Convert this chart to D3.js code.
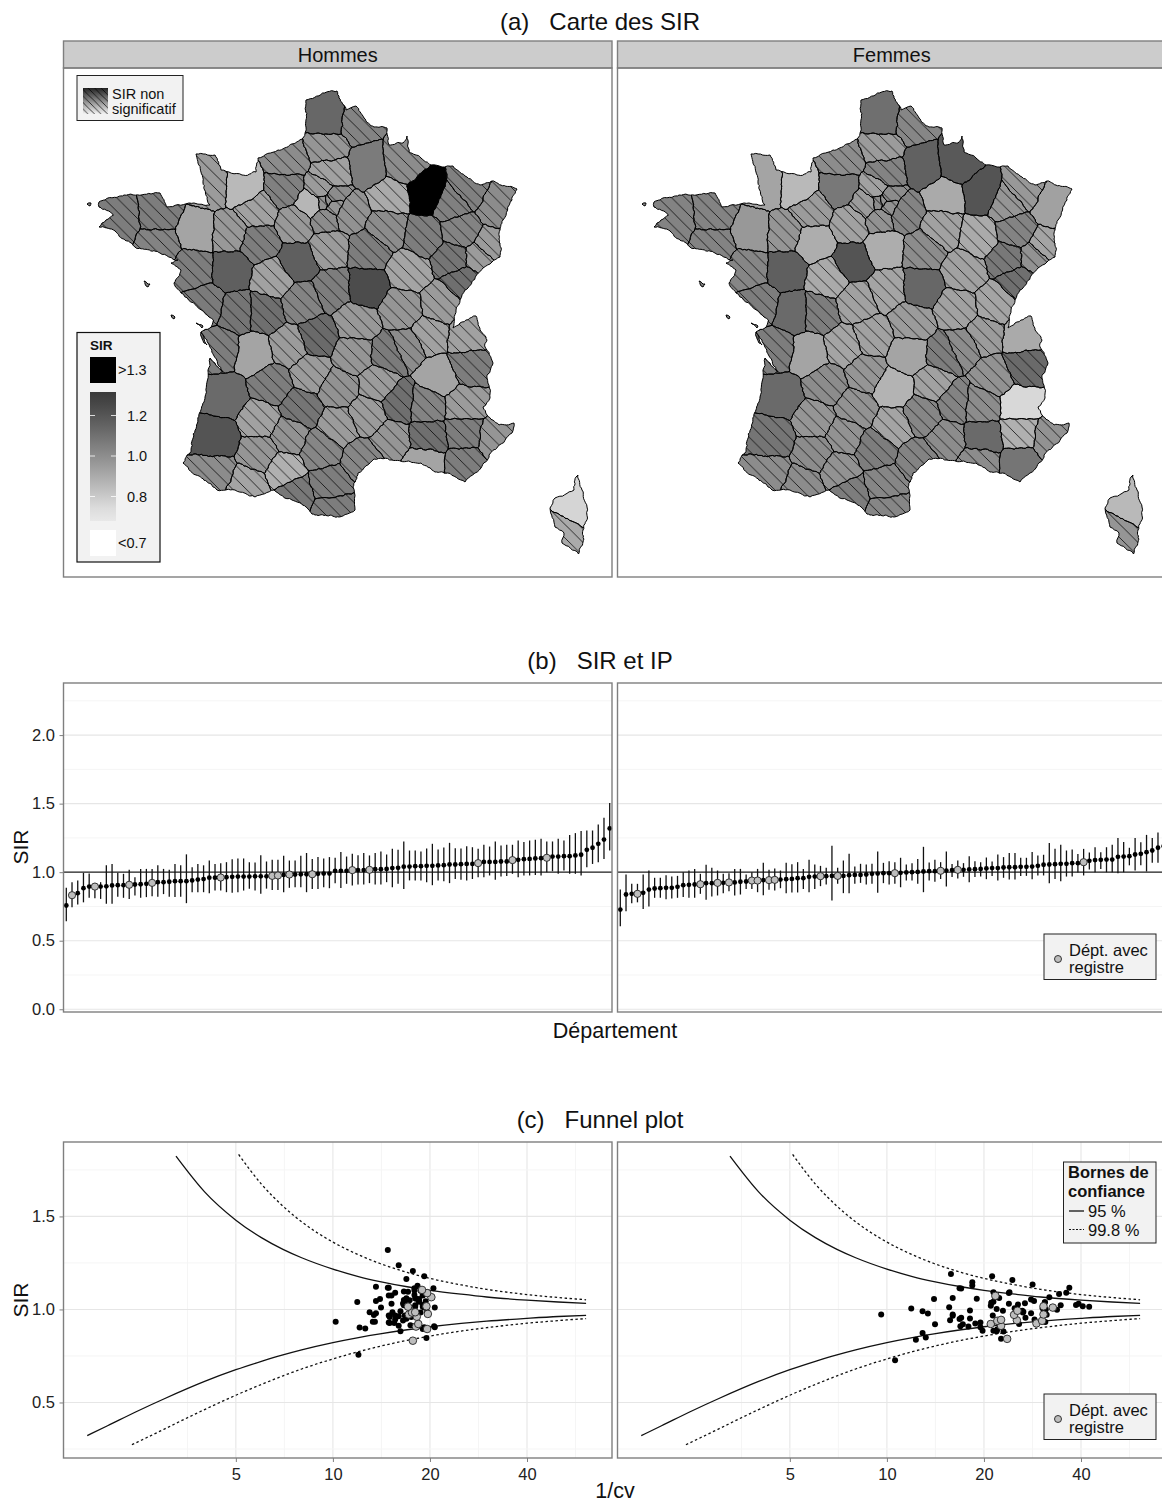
<!DOCTYPE html>
<html>
<head>
<meta charset="utf-8">
<title>SIR par departement</title>
<script src="https://d3js.org/d3.v7.min.js"></script>
<style>
  body { margin: 0; background: #fff; }
  svg { display: block; }
  text { font-family: "Liberation Sans", Arial, sans-serif; fill: #111; }
  .axis path { display: none; }
  .axis line { stroke: #7f7f7f; }
  .axis text { font-size: 16.5px; fill: #222; }
</style>
</head>
<body>
<script>

// ---- map: departments, rough centres (lon, lat) and SIR read from the colours
var deptCodes = ["01","02","03","04","05","06","07","08","09","10","11","12","13","14","15","16","17","18","19","2A","2B","21","22","23","24","25","26","27","28","29","30","31","32","33","34","35","36","37","38","39","40","41","42","43","44","45","46","47","48","49","50","51","52","53","54","55","56","57","58","59","60","61","62","63","64","65","66","67","68","69","70","71","72","73","74","75","76","77","78","79","80","81","82","83","84","85","86","87","88","89","90","91","92","93","94","95"];
var deptLon = [5.35,3.56,3.19,6.24,6.26,7.12,4.42,4.64,1.5,4.16,2.41,2.68,5.09,-0.36,2.67,0.2,-0.78,2.49,1.88,8.71,9.0,4.77,-2.86,2.02,0.74,6.36,5.17,1.0,1.37,-4.1,4.18,1.17,0.45,-0.57,3.37,-1.64,1.58,0.69,5.58,5.7,-0.78,1.43,4.17,3.81,-1.68,2.34,1.6,0.46,3.5,-0.56,-1.32,4.24,5.23,-0.66,6.16,5.38,-2.81,6.66,3.5,3.22,2.43,0.13,2.29,3.14,-0.76,0.16,2.52,7.55,7.27,4.64,6.09,4.54,0.22,6.44,6.43,2.34,1.03,2.93,1.84,-0.32,2.28,2.17,1.28,6.24,5.19,-1.3,0.46,1.24,6.38,3.56,6.93,2.24,2.2,2.47,2.47,2.13];
var deptLat = [46.1,49.56,46.39,44.1,44.66,43.94,44.75,49.6,42.92,48.3,43.1,44.28,43.54,49.1,45.05,45.72,45.78,47.06,45.36,42.12,42.48,47.42,48.44,46.09,45.1,47.16,44.68,49.11,48.39,48.25,44.0,43.36,43.69,44.83,43.58,48.15,46.78,47.26,45.26,46.73,43.96,47.62,45.73,45.13,47.36,47.91,44.62,44.37,44.52,47.39,49.08,48.95,48.11,48.15,48.79,49.01,47.85,49.04,47.11,50.45,49.41,48.62,50.49,45.73,43.26,43.05,42.6,48.67,47.86,45.87,47.64,46.64,47.99,45.48,46.03,48.86,49.66,48.63,48.79,46.54,49.96,43.79,44.08,43.46,44.01,46.68,46.56,45.89,48.2,47.84,47.63,48.52,48.85,48.92,48.78,49.07];
var mapHommes = [0.93,1.06,0.96,1.05,0.95,0.97,1.1,1.0,1.07,1.0,1.05,0.95,0.92,0.85,0.98,0.92,1.05,1.05,0.95,0.9,0.76,0.92,1.05,1.12,1.05,1.1,1.03,1.04,0.96,1.05,0.97,0.88,0.97,1.12,1.02,0.92,1.03,0.93,0.92,0.95,1.2,1.16,1.06,0.95,1.05,0.95,1.08,0.93,0.95,1.16,0.95,0.9,1.05,0.96,1.04,1.32,1.03,1.04,1.23,1.03,0.93,0.93,1.13,0.97,1.0,0.92,1.05,1.0,0.95,1.0,1.08,0.97,1.05,1.05,0.93,0.98,1.0,0.98,0.86,1.08,0.97,1.02,0.98,1.05,1.1,1.06,1.1,0.95,1.03,1.05,0.95,1.0,0.98,1.0,0.97,0.95];
var mapFemmes = [0.95,1.15,0.95,0.88,0.75,0.98,1.03,1.18,1.05,0.93,1.02,0.92,1.0,0.85,0.87,0.92,1.05,0.92,0.97,0.97,0.85,0.93,1.03,0.93,1.0,1.1,1.0,1.07,0.93,1.03,1.0,0.98,1.0,1.12,1.03,0.96,0.93,0.9,0.98,0.92,1.08,1.2,1.05,0.93,1.02,0.89,0.98,0.97,1.02,1.16,0.92,0.9,0.9,0.97,0.97,1.2,1.03,0.96,1.13,1.02,1.03,0.95,1.1,0.92,1.0,1.0,1.02,0.93,0.92,1.0,1.07,0.93,0.89,1.12,0.9,0.98,1.0,1.03,0.95,1.12,0.95,1.05,0.98,1.08,1.12,1.05,1.05,0.92,1.03,1.0,0.98,0.98,1.0,1.0,0.98,0.93];
// departments drawn without hatching (significant SIR)
var sigHommes = ["02","13","14","16","2B","33","35","38","40","41","49","55","58","62","78"];
var sigFemmes = ["02","05","08","14","15","16","27","2B","33","35","41","45","49","50","51","55","58","62","63","67","72","74","79","83","84"];

// coast and land border, in picture units of the left panel
var franceBorder = [[306,100],[322.5,93],[337,91],[339,98],[346,110],[356,106],[364,118],[374,127],[387,128],[389,145],[403,143],[407,136],[409,152],[421,158],[431,165],[442,167],[453,166],[467,177],[480,185],[492,181],[517,189],[512,200],[503,220],[499,233],[500,257],[492,262],[483,268],[465,290],[456,310],[453,328],[460,323],[476,316],[480,330],[487,340],[485,347],[493,363],[487,378],[490,398],[483,407],[487,415],[499,425],[514,423],[512,433],[497.5,447],[489,455],[481,468],[465,482],[447.5,473],[435,472],[421,463],[392,460],[374,459],[358,473],[353,487],[355,510],[339,517],[315,515],[306,507],[292,500],[274,490],[255,497],[235,490],[217,490],[196,475],[183,463],[190,453],[197.5,423],[205,397],[210,358],[222.5,372],[213.5,355],[208,343],[201,332],[210,328],[213.5,320],[181,293],[174,283],[181,270],[171,263],[178,260],[160,253],[135,247],[113.5,230],[99,227],[106,220],[113.5,215],[99,207],[99,202],[124,195],[160,193],[167,207],[189,203],[194,203],[210,205],[203,183],[196,154],[215,155],[221,170],[242,175],[256,172],[258,158],[278,150],[303,138],[306,127]];
var corseBorder = [[578,475],[582,490],[587,507],[587.5,518],[583,530],[583,542],[578.5,554],[562,543],[564,533],[555,527],[550,508],[555,498],[574,490],[576,477]];
var islands = [[[87,204],[91,203],[90,206]],[[144,281],[150,284],[148,287],[145,284]],[[171,315],[175,317],[174,319]],[[196,323],[203,326],[202,328]],[[201,332],[204,337],[207,345],[204,343]]];

// ---- (b) SIR et IP, sorted by SIR
var sirHommes = [0.757,0.832,0.847,0.883,0.895,0.895,0.895,0.897,0.903,0.905,0.905,0.908,0.91,0.912,0.915,0.922,0.927,0.927,0.93,0.934,0.934,0.934,0.94,0.946,0.95,0.96,0.96,0.961,0.963,0.966,0.968,0.968,0.968,0.97,0.97,0.97,0.973,0.976,0.98,0.983,0.983,0.985,0.985,0.985,0.988,0.99,0.99,1.01,1.01,1.01,1.015,1.015,1.015,1.017,1.022,1.022,1.024,1.03,1.032,1.04,1.041,1.044,1.044,1.046,1.046,1.049,1.051,1.056,1.056,1.058,1.06,1.06,1.066,1.075,1.075,1.075,1.078,1.078,1.088,1.09,1.095,1.097,1.1,1.102,1.105,1.114,1.114,1.117,1.117,1.122,1.127,1.163,1.178,1.207,1.238,1.319];
var hiHommes = [0.886,0.927,0.94,0.995,0.99,0.92,0.927,1.05,1.06,0.995,0.988,1.017,0.963,1.024,1.024,1.024,1.05,1.024,1.017,1.06,1.05,1.13,1.036,1.06,1.05,1.085,1.06,1.066,1.073,1.095,1.1,1.1,1.073,1.07,1.124,1.078,1.09,1.09,1.12,1.085,1.085,1.12,1.14,1.097,1.11,1.1,1.11,1.105,1.148,1.114,1.134,1.124,1.139,1.122,1.139,1.151,1.129,1.17,1.163,1.224,1.158,1.158,1.15,1.173,1.207,1.165,1.18,1.214,1.175,1.173,1.19,1.182,1.17,1.2,1.187,1.224,1.195,1.2,1.2,1.231,1.22,1.231,1.236,1.243,1.224,1.224,1.243,1.231,1.272,1.285,1.3,1.304,1.304,1.348,1.397,1.504];
var loHommes = [0.642,0.745,0.764,0.78,0.813,0.81,0.805,0.77,0.77,0.82,0.813,0.805,0.83,0.813,0.818,0.825,0.82,0.84,0.82,0.818,0.82,0.774,0.854,0.854,0.854,0.847,0.866,0.866,0.854,0.85,0.854,0.866,0.88,0.866,0.842,0.88,0.87,0.87,0.854,0.886,0.89,0.89,0.854,0.878,0.878,0.89,0.883,0.92,0.885,0.915,0.903,0.91,0.91,0.92,0.91,0.91,0.927,0.89,0.915,0.878,0.94,0.94,0.94,0.927,0.905,0.94,0.934,0.92,0.95,0.944,0.94,0.95,0.963,0.963,0.976,0.944,0.968,0.973,0.988,0.963,0.976,0.976,0.98,0.976,1.0,1.007,0.988,1.012,0.988,0.988,0.976,1.036,1.06,1.073,1.097,1.158];
var registreHommes = [1,5,11,15,27,36,37,39,43,50,53,72,78,84];

var sirFemmes = [0.727,0.837,0.842,0.842,0.849,0.873,0.881,0.883,0.886,0.886,0.893,0.905,0.908,0.91,0.912,0.92,0.92,0.922,0.922,0.925,0.925,0.93,0.932,0.939,0.939,0.942,0.942,0.944,0.946,0.949,0.951,0.956,0.956,0.966,0.968,0.971,0.971,0.973,0.973,0.973,0.978,0.98,0.98,0.983,0.988,0.99,0.993,0.993,0.993,0.995,0.998,1.0,1.002,1.005,1.007,1.007,1.01,1.012,1.015,1.017,1.017,1.02,1.022,1.024,1.027,1.03,1.03,1.034,1.036,1.036,1.039,1.039,1.041,1.046,1.054,1.056,1.058,1.061,1.061,1.066,1.066,1.073,1.083,1.088,1.09,1.092,1.092,1.112,1.114,1.117,1.129,1.134,1.146,1.158,1.178,1.19];
var hiFemmes = [0.873,0.983,0.915,0.915,0.983,1.012,0.959,0.959,0.978,0.968,0.973,1.0,1.012,1.024,0.988,1.054,1.032,1.012,0.988,0.993,1.024,1.024,0.983,1.0,1.024,1.068,1.017,1.027,1.012,1.068,1.058,1.073,1.024,1.09,1.056,1.046,1.032,1.192,1.032,1.085,1.134,1.041,1.061,1.056,1.061,1.151,1.068,1.08,1.073,1.105,1.056,1.066,1.097,1.185,1.07,1.09,1.073,1.15,1.06,1.085,1.066,1.117,1.08,1.073,1.107,1.078,1.129,1.11,1.139,1.139,1.105,1.105,1.148,1.122,1.127,1.212,1.17,1.2,1.158,1.165,1.132,1.17,1.144,1.182,1.146,1.182,1.2,1.25,1.221,1.178,1.25,1.219,1.272,1.25,1.29,1.33];
var loFemmes = [0.606,0.715,0.774,0.78,0.732,0.75,0.813,0.813,0.803,0.808,0.813,0.818,0.813,0.813,0.842,0.798,0.822,0.83,0.847,0.861,0.83,0.837,0.878,0.878,0.854,0.832,0.871,0.866,0.883,0.847,0.852,0.852,0.878,0.854,0.878,0.898,0.91,0.793,0.915,0.847,0.847,0.915,0.922,0.91,0.915,0.849,0.92,0.91,0.915,0.89,0.94,0.94,0.915,0.854,0.94,0.93,0.95,0.895,0.964,0.954,0.966,0.927,0.964,0.968,0.949,0.973,0.939,0.959,0.946,0.946,0.973,0.973,0.949,0.976,0.976,0.92,0.951,0.934,0.968,0.968,0.998,0.976,1.02,1.0,1.024,1.0,1.0,0.993,1.0,1.05,1.012,1.05,1.005,1.068,1.068,1.07];
var registreFemmes = [3,14,17,19,23,24,26,27,35,38,48,56,59,81];

// ---- (c) funnel plot, 1/cv of each department in the order above
var cvHommes = [12.0,17.7,19.5,16.2,19.5,19.6,19.0,12.6,12.1,20.7,19.2,18.1,20.6,16.0,17.4,18.4,15.5,15.0,14.9,13.5,13.3,10.2,16.5,15.6,16.9,15.0,17.5,18.2,16.0,15.0,14.9,15.6,16.7,17.1,13.4,17.9,17.2,19.7,13.6,17.6,18.7,15.3,13.0,18.0,19.6,17.4,16.2,20.7,14.1,19.2,17.1,18.0,19.0,19.5,18.0,16.6,19.0,15.2,16.5,11.9,18.5,18.5,19.4,16.9,13.6,17.3,16.6,14.0,18.5,18.1,16.9,18.0,20.2,14.9,19.0,15.2,19.0,17.9,19.6,15.6,17.1,16.6,18.7,17.9,18.9,20.5,17.9,14.9,14.8,13.6,18.3,16.9,19.2,17.7,16.0,14.8];
var cvFemmes = [10.6,12.3,22.6,23.6,13.2,12.9,23.0,21.9,19.8,21.4,22.0,19.5,17.9,16.9,22.6,14.1,17.2,21.0,25.7,29.1,18.8,19.5,31.0,30.3,22.0,15.7,25.3,22.6,28.7,16.8,18.1,17.0,26.9,16.0,21.3,24.8,31.3,9.6,30.6,16.0,13.4,30.9,28.0,26.4,26.5,12.9,26.3,22.9,25.4,18.1,33.7,31.1,21.9,11.9,30.4,24.9,32.7,15.6,42.4,30.6,40.5,21.0,34.6,38.6,25.5,39.3,23.9,26.8,21.1,21.1,30.9,30.9,21.4,28.6,28.0,14.0,19.0,16.0,22.3,21.7,31.9,21.7,34.2,23.9,36.0,24.0,21.4,17.0,16.8,36.8,18.4,28.3,18.4,24.5,21.2,15.8];

// confidence bounds as read on the plot: 1/cv, SIR
var b95Up = [[3.26,1.824],[4,1.632],[5,1.48],[6,1.386],[7,1.323],[8,1.278],[10,1.217],[12,1.177],[14,1.15],[17,1.122],[20,1.103],[25,1.082],[30,1.067],[40,1.05],[50,1.04],[61,1.033]];
var b95Lo = [[1.73,0.322],[2,0.375],[2.5,0.457],[3,0.52],[4,0.613],[5,0.676],[6,0.721],[7,0.756],[8,0.783],[10,0.822],[12,0.849],[14,0.869],[17,0.891],[20,0.907],[25,0.925],[30,0.937],[40,0.952],[50,0.962],[61,0.968]];
var b998Up = [[5.1,1.833],[6,1.674],[7,1.555],[8,1.471],[10,1.362],[12,1.294],[14,1.247],[17,1.199],[20,1.167],[25,1.132],[30,1.108],[40,1.08],[50,1.064],[61,1.052]];
var b998Lo = [[2.38,0.273],[2.6,0.305],[3,0.357],[3.5,0.414],[4,0.462],[5,0.539],[6,0.597],[7,0.643],[8,0.68],[10,0.734],[12,0.773],[14,0.802],[17,0.834],[20,0.857],[25,0.884],[30,0.902],[40,0.926],[50,0.94],[61,0.951]];

var panelX = [{ left: 63.5, right: 612, mapShift: 0, name: "Hommes" },
              { left: 617.5, right: 1166, mapShift: 555, name: "Femmes" }];
var borderGrey = "#7f7f7f";

var svg = d3.select("body").append("svg")
    .attr("width", 1162)
    .attr("height", 1502);

var defs = svg.append("defs");

function addHatch(id, step, w) {
  var p = defs.append("pattern").attr("id", id)
      .attr("patternUnits", "userSpaceOnUse")
      .attr("width", step).attr("height", step);
  [[0, 0, step, step], [-1, step - 1, 1, step + 1], [step - 1, -1, step + 1, 1]].forEach(function(d) {
    p.append("line").attr("x1", d[0]).attr("y1", d[1]).attr("x2", d[2]).attr("y2", d[3])
        .attr("stroke", "#000").attr("stroke-width", w);
  });
}
addHatch("hatch", 13.5, 0.75);
addHatch("hatchLegend", 6.5, 0.7);

var fillScale = d3.scaleLinear().domain([0.7, 1.3]).range(["#e8e8e8", "#3a3a3a"])
    .interpolate(d3.interpolateLab).clamp(true);

function fillFor(v) {
  if (v > 1.3) return "#000";
  if (v < 0.7) return "#fff";
  return fillScale(v);
}

var grad = defs.append("linearGradient").attr("id", "sirGrad")
    .attr("x1", 0).attr("y1", 0).attr("x2", 0).attr("y2", 1);
d3.range(0, 11).forEach(function(i) {
  grad.append("stop").attr("offset", i / 10).attr("stop-color", fillScale(1.31 - i * 0.0636));
});

function title(txt, y) {
  svg.append("text").attr("x", 600).attr("y", y).attr("text-anchor", "middle")
      .style("font-size", "24px").attr("xml:space", "preserve").text(txt);
}

// ---- map geometry
var projection = d3.geoConicConformal()
    .parallels([44, 49]).rotate([-3, 0]).center([0, 46.5])
    .scale(2819).translate([350, 317]);

var seeds = deptCodes.map(function(c, i) { return projection([deptLon[i], deptLat[i]]); });
var voronoi = d3.Delaunay.from(seeds).voronoi([0, 0, 800, 800]);

// wobble a border segment; same result from both sides so neighbours stay glued
function wobble(a, b, out) {
  var flip = a[0] > b[0] || (a[0] === b[0] && a[1] > b[1]);
  var p = flip ? b : a, q = flip ? a : b;
  var pts = [];
  (function rec(u, v) {
    var dx = v[0] - u[0], dy = v[1] - u[1], len = Math.sqrt(dx * dx + dy * dy);
    if (len < 3) return;
    var h = Math.sin(u[0] * 12.9898 + u[1] * 78.233 + v[0] * 37.719 + v[1] * 4.581) * 43758.5453;
    h = h - Math.floor(h) - 0.5;
    var amp = Math.min(0.34, 1.9 / len) * h;
    var m = [(u[0] + v[0]) / 2 - dy * amp, (u[1] + v[1]) / 2 + dx * amp];
    rec(u, m); pts.push(m); rec(m, v);
  })(p, q);
  if (flip) pts.reverse();
  out.push(a);
  pts.forEach(function(m) { out.push(m); });
}

function ringPath(ring) {
  var out = [];
  for (var i = 0; i < ring.length; i++) wobble(ring[i], ring[(i + 1) % ring.length], out);
  return "M" + out.map(function(p) { return p[0].toFixed(2) + "," + p[1].toFixed(2); }).join("L") + "Z";
}

var cellPaths = deptCodes.map(function(c, i) {
  var poly = voronoi.cellPolygon(i);
  poly.pop();
  return ringPath(poly);
});
var landPath = [franceBorder, corseBorder].concat(islands).map(ringPath).join("");

defs.append("clipPath").attr("id", "land").append("path").attr("d", landPath);

function drawMap(p, values, sig) {
  // strip + panel
  svg.append("rect").attr("x", p.left).attr("y", 41).attr("width", p.right - p.left).attr("height", 27)
      .attr("fill", "#cccccc").attr("stroke", borderGrey).attr("stroke-width", 1.4);
  svg.append("text").attr("x", (p.left + p.right) / 2).attr("y", 61.5).attr("text-anchor", "middle")
      .style("font-size", "20px").text(p.name);

  var g = svg.append("g").attr("transform", "translate(" + p.mapShift + ",0)");
  var cells = g.append("g").attr("clip-path", "url(#land)");
  cells.selectAll("path.fill").data(deptCodes).enter().append("path")
      .attr("class", "fill")
      .attr("d", function(d, i) { return cellPaths[i]; })
      .attr("fill", function(d, i) { return fillFor(values[i]); });
  cells.selectAll("path.hatch").data(deptCodes.filter(function(d) { return sig.indexOf(d) < 0; })).enter().append("path")
      .attr("class", "hatch")
      .attr("d", function(d) { return cellPaths[deptCodes.indexOf(d)]; })
      .attr("fill", "url(#hatch)");
  cells.selectAll("path.edge").data(deptCodes).enter().append("path")
      .attr("class", "edge")
      .attr("d", function(d, i) { return cellPaths[i]; })
      .attr("fill", "none").attr("stroke", "#000").attr("stroke-width", 1);
  g.append("path").attr("d", landPath).attr("fill", "none").attr("stroke", "#000").attr("stroke-width", 1);

  svg.append("rect").attr("x", p.left).attr("y", 68).attr("width", p.right - p.left).attr("height", 509)
      .attr("fill", "none").attr("stroke", borderGrey).attr("stroke-width", 1.4);
}

title("(a)   Carte des SIR", 30);
panelX.forEach(function(p, i) {
  drawMap(p, i === 0 ? mapHommes : mapFemmes, i === 0 ? sigHommes : sigFemmes);
});

// legends of the map
var lh = svg.append("g");
lh.append("rect").attr("x", 77).attr("y", 75.5).attr("width", 106).attr("height", 45)
    .attr("fill", "#f2f2f2").attr("stroke", "#222").attr("stroke-width", 1);
var hg = defs.append("linearGradient").attr("id", "hatchGrad").attr("x1", 0).attr("y1", 0).attr("x2", 0).attr("y2", 1);
hg.append("stop").attr("offset", 0).attr("stop-color", "#222");
hg.append("stop").attr("offset", 1).attr("stop-color", "#f2f2f2");
lh.append("rect").attr("x", 83).attr("y", 88).attr("width", 25).attr("height", 26).attr("fill", "url(#hatchGrad)");
lh.append("rect").attr("x", 83).attr("y", 88).attr("width", 25).attr("height", 26).attr("fill", "url(#hatchLegend)");
lh.append("text").attr("x", 112).attr("y", 98.5).style("font-size", "14.5px").text("SIR non");
lh.append("text").attr("x", 112).attr("y", 114).style("font-size", "14.5px").text("significatif");

var ls = svg.append("g");
ls.append("rect").attr("x", 77).attr("y", 332.5).attr("width", 83).attr("height", 229.5)
    .attr("fill", "#f2f2f2").attr("stroke", "#111").attr("stroke-width", 1.2);
ls.append("text").attr("x", 90).attr("y", 350).style("font-size", "13.5px").style("font-weight", "bold").text("SIR");
ls.append("rect").attr("x", 90).attr("y", 357).attr("width", 26).attr("height", 26).attr("fill", "#000");
ls.append("rect").attr("x", 90).attr("y", 392).attr("width", 26).attr("height", 129).attr("fill", "url(#sirGrad)");
ls.append("rect").attr("x", 90).attr("y", 530).attr("width", 26).attr("height", 26).attr("fill", "#fff");
ls.append("text").attr("x", 118).attr("y", 375).style("font-size", "14.5px").text(">1.3");
ls.append("text").attr("x", 118).attr("y", 548).style("font-size", "14.5px").text("<0.7");

var legendTicks = [1.2, 1.0, 0.8];
var legendY = d3.scaleLinear().domain([1.2, 0.8]).range([415.5, 496.5]);
legendTicks.forEach(function(t) {
  [[90, 95], [111, 116]].forEach(function(r) {
    ls.append("line").attr("x1", r[0]).attr("x2", r[1]).attr("y1", legendY(t)).attr("y2", legendY(t))
        .attr("stroke", "#fff").attr("stroke-width", 0.8);
  });
  ls.append("text").attr("x", 127).attr("y", legendY(t) + 5.2).style("font-size", "14.5px").text(t.toFixed(1));
});

// ---- shared helpers for (b) and (c)
function legendRegistre(top) {
  var l = svg.append("g");
  l.append("rect").attr("x", 1044).attr("y", top).attr("width", 112).attr("height", 45.5)
      .attr("fill", "#f2f2f2").attr("stroke", "#222").attr("stroke-width", 1);
  l.append("circle").attr("cx", 1058).attr("cy", top + 25).attr("r", 3.5)
      .attr("fill", "#bdbdbd").attr("stroke", "#222").attr("stroke-width", 0.9);
  l.append("text").attr("x", 1069).attr("y", top + 22).style("font-size", "16.5px").text("Dépt. avec");
  l.append("text").attr("x", 1069).attr("y", top + 39).style("font-size", "16.5px").text("registre");
}

function frame(p, top, bottom) {
  svg.append("rect").attr("x", p.left).attr("y", top).attr("width", p.right - p.left).attr("height", bottom - top)
      .attr("fill", "none").attr("stroke", borderGrey).attr("stroke-width", 1.4);
}

function gridY(p, y, majors, minors) {
  minors.forEach(function(t) {
    svg.append("line").attr("x1", p.left).attr("x2", p.right).attr("y1", y(t)).attr("y2", y(t))
        .attr("stroke", "#f5f5f5").attr("stroke-width", 1);
  });
  majors.forEach(function(t) {
    svg.append("line").attr("x1", p.left).attr("x2", p.right).attr("y1", y(t)).attr("y2", y(t))
        .attr("stroke", "#e6e6e6").attr("stroke-width", 1.1);
  });
}

// ---- (b)
title("(b)   SIR et IP", 669);
var yB = d3.scaleLinear().domain([-0.02, 2.38]).range([1012, 683]);
var bMajor = [0, 0.5, 1, 1.5, 2], bMinor = [0.25, 0.75, 1.25, 1.75, 2.25];

function drawCI(p, sir, lo, hi, reg) {
  var x = d3.scalePoint().domain(d3.range(sir.length)).range([p.left + 2.8, p.left + 2.8 + 95 * 5.72]);
  gridY(p, yB, bMajor, bMinor);
  svg.append("line").attr("x1", p.left).attr("x2", p.right).attr("y1", yB(1)).attr("y2", yB(1))
      .attr("stroke", "#222").attr("stroke-width", 1.3);
  var g = svg.append("g");
  g.selectAll("line").data(sir).enter().append("line")
      .attr("x1", function(d, i) { return x(i); }).attr("x2", function(d, i) { return x(i); })
      .attr("y1", function(d, i) { return yB(lo[i]); }).attr("y2", function(d, i) { return yB(hi[i]); })
      .attr("stroke", "#111").attr("stroke-width", 1.3);
  g.selectAll("circle.pt").data(sir).enter().append("circle").attr("class", "pt")
      .attr("cx", function(d, i) { return x(i); }).attr("cy", function(d) { return yB(d); })
      .attr("r", 2.4).attr("fill", "#000");
  g.selectAll("circle.reg").data(reg).enter().append("circle").attr("class", "reg")
      .attr("cx", function(d) { return x(d); }).attr("cy", function(d) { return yB(sir[d]); })
      .attr("r", 3.6).attr("fill", "#bdbdbd").attr("stroke", "#222").attr("stroke-width", 0.9);
  frame(p, 683, 1012);
}
drawCI(panelX[0], sirHommes, loHommes, hiHommes, registreHommes);
drawCI(panelX[1], sirFemmes, loFemmes, hiFemmes, registreFemmes);
legendRegistre(934);

svg.append("g").attr("class", "axis").attr("transform", "translate(" + panelX[0].left + ",0)")
    .call(d3.axisLeft(yB).tickValues(bMajor).tickFormat(d3.format(".1f")).tickSize(4).tickPadding(4.5));
svg.append("text").attr("transform", "translate(28,847) rotate(-90)").attr("text-anchor", "middle")
    .style("font-size", "21px").text("SIR");
svg.append("text").attr("x", 615).attr("y", 1037.5).attr("text-anchor", "middle")
    .style("font-size", "21.5px").text("Département");

// ---- (c)
title("(c)   Funnel plot", 1128);
var yC = d3.scaleLinear().domain([0.2016, 1.9]).range([1458, 1142]);
var cMajorX = [5, 10, 20, 40], cMinorX = [3.54, 7.07, 14.14, 28.28, 56.57];
var cMajorY = [0.5, 1, 1.5], cMinorY = [0.25, 0.75, 1.25, 1.75];

function drawFunnel(p, cv, sir, reg) {
  var x = d3.scaleLog().domain([1.46, 73.4]).range([p.left, p.right]);
  cMinorX.forEach(function(t) {
    svg.append("line").attr("x1", x(t)).attr("x2", x(t)).attr("y1", 1142).attr("y2", 1458)
        .attr("stroke", "#f5f5f5").attr("stroke-width", 1);
  });
  cMajorX.forEach(function(t) {
    svg.append("line").attr("x1", x(t)).attr("x2", x(t)).attr("y1", 1142).attr("y2", 1458)
        .attr("stroke", "#e6e6e6").attr("stroke-width", 1.1);
  });
  gridY(p, yC, cMajorY, cMinorY);

  var line = d3.line().x(function(d) { return x(d[0]); }).y(function(d) { return yC(d[1]); })
      .curve(d3.curveMonotoneX);
  [b95Up, b95Lo].forEach(function(b) {
    svg.append("path").attr("d", line(b)).attr("fill", "none").attr("stroke", "#111").attr("stroke-width", 1.3);
  });
  [b998Up, b998Lo].forEach(function(b) {
    svg.append("path").attr("d", line(b)).attr("fill", "none").attr("stroke", "#111")
        .attr("stroke-width", 1.3).attr("stroke-dasharray", "2.5,2.5");
  });

  var g = svg.append("g");
  g.selectAll("circle.pt").data(sir).enter().append("circle").attr("class", "pt")
      .attr("cx", function(d, i) { return x(cv[i]); }).attr("cy", function(d) { return yC(d); })
      .attr("r", 3).attr("fill", "#000");
  g.selectAll("circle.reg").data(reg).enter().append("circle").attr("class", "reg")
      .attr("cx", function(d) { return x(cv[d]); }).attr("cy", function(d) { return yC(sir[d]); })
      .attr("r", 3.8).attr("fill", "#bdbdbd").attr("stroke", "#222").attr("stroke-width", 0.9);
  frame(p, 1142, 1458);

  svg.append("g").attr("class", "axis").attr("transform", "translate(0,1458)")
      .call(d3.axisBottom(x).tickValues(cMajorX).tickFormat(d3.format("d")).tickSize(4).tickPadding(6));
}
drawFunnel(panelX[0], cvHommes, sirHommes, registreHommes);
drawFunnel(panelX[1], cvFemmes, sirFemmes, registreFemmes);
legendRegistre(1394);

svg.append("g").attr("class", "axis").attr("transform", "translate(" + panelX[0].left + ",0)")
    .call(d3.axisLeft(yC).tickValues(cMajorY).tickFormat(d3.format(".1f")).tickSize(4).tickPadding(4.5));
svg.append("text").attr("transform", "translate(28,1300) rotate(-90)").attr("text-anchor", "middle")
    .style("font-size", "21px").text("SIR");
svg.append("text").attr("x", 615).attr("y", 1498).attr("text-anchor", "middle")
    .style("font-size", "21.5px").text("1/cv");

// bounds legend
var lb = svg.append("g");
lb.append("rect").attr("x", 1063.5).attr("y", 1162).attr("width", 92.5).attr("height", 81)
    .attr("fill", "#f2f2f2").attr("stroke", "#222").attr("stroke-width", 1);
lb.append("text").attr("x", 1068).attr("y", 1178).style("font-size", "16.5px").style("font-weight", "bold").text("Bornes de");
lb.append("text").attr("x", 1068).attr("y", 1197).style("font-size", "16.5px").style("font-weight", "bold").text("confiance");
lb.append("line").attr("x1", 1069).attr("x2", 1084).attr("y1", 1211).attr("y2", 1211).attr("stroke", "#111").attr("stroke-width", 1.3);
lb.append("line").attr("x1", 1069).attr("x2", 1084).attr("y1", 1229.5).attr("y2", 1229.5).attr("stroke", "#111")
    .attr("stroke-width", 1.1).attr("stroke-dasharray", "2,1.5");
lb.append("text").attr("x", 1088).attr("y", 1217).style("font-size", "16.5px").text("95 %");
lb.append("text").attr("x", 1088).attr("y", 1236).style("font-size", "16.5px").text("99.8 %");

</script>
</body>
</html>
